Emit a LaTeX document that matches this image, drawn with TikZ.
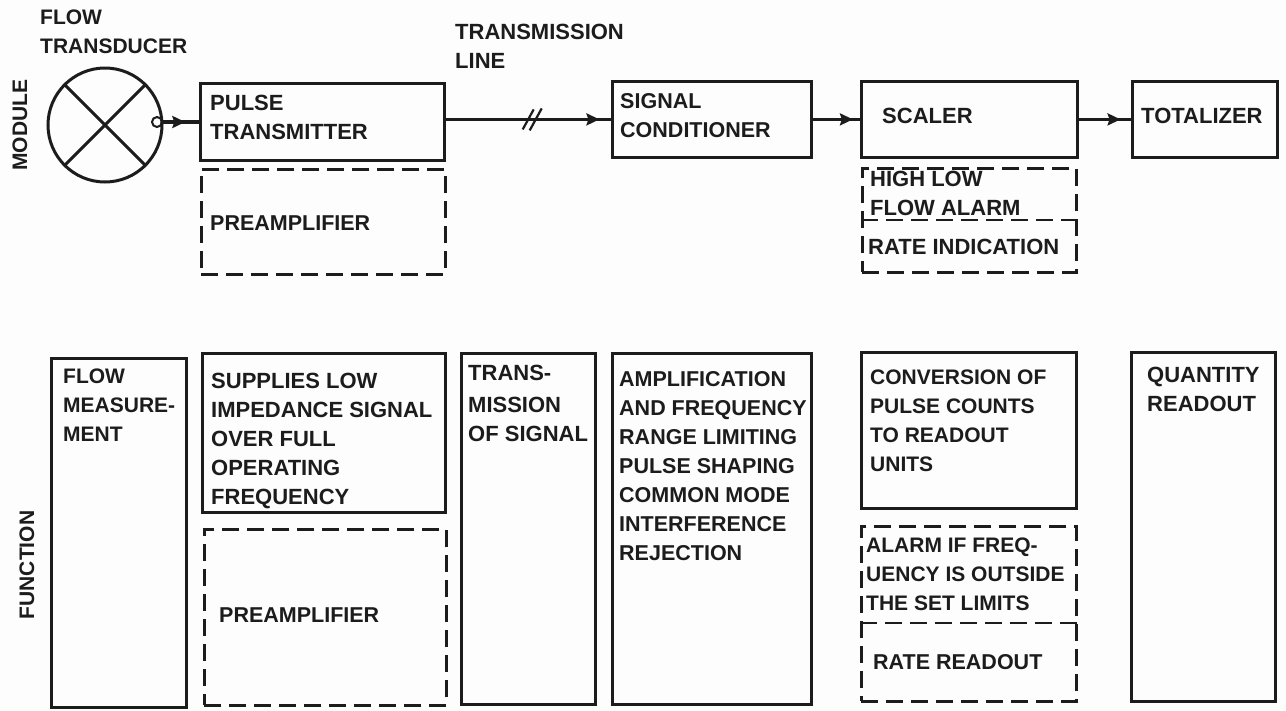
\documentclass[tikz,border=0pt]{standalone}
\usepackage{xcolor}
\usepackage{fontspec}
\setmainfont{Liberation Sans}
\usetikzlibrary{arrows.meta,positioning,calc,decorations.markings}
\definecolor{ink}{HTML}{1C1C1C}
\definecolor{paper}{HTML}{FDFDFD}
\tikzset{
  frame/.style={rectangle, draw=ink, line width=2.8pt, anchor=north west, inner sep=0pt},
  dashframe/.style={frame, line width=2.6pt, dash pattern=on 17pt off 8pt},
  dashrule/.style={draw=ink, line width=2.2pt, dash pattern=on 17pt off 8pt},
  lbl/.style={font=\fontsize{22}{29}\selectfont\bfseries, text=ink, align=left, inner sep=0pt},
  lblmid/.style={lbl, font=\fontsize{21.5}{29}\selectfont\bfseries},
  lbltight/.style={lbl, font=\fontsize{21}{29}\selectfont\bfseries},
  fl/.style={draw=ink, line width=3.4pt, postaction={decorate, decoration={markings,
             mark=at position #1 with {\arrow{Stealth[length=13pt,width=12pt,inset=2pt]}}}}},
  xdrline/.style={draw=ink, line width=3pt},
  brk/.style={draw=ink, line width=2.2pt}
}
\begin{document}
\begin{tikzpicture}[x=1pt, y=-1pt]
  \useasboundingbox[fill=paper] (0,0) rectangle (1286,710);
  % module row
  \node[lbltight, rotate=90] (module) at (20,125) {MODULE};
  \node[circle, xdrline, minimum size=114pt, inner sep=0pt] (xdr) at (105,125) {};
  \draw[xdrline] (xdr.north west) -- (xdr.south east);
  \draw[xdrline] (xdr.north east) -- (xdr.south west);
  \node[circle, draw=ink, line width=2pt, minimum size=10pt, inner sep=0pt] (tap) at (157,122) {};
  \node[lbltight, anchor=north west] (xdrt) at (40,10) {FLOW\\TRANSDUCER};
  \node[lbl, anchor=north west] (linet) at (455,24) {TRANSMISSION\\LINE};

  \node[frame, minimum width=244pt, minimum height=77pt] (pulse) at (199,82) {};
  \node[lbl, below right=13pt and 11pt of pulse.north west] {PULSE\\TRANSMITTER};
  \node[dashframe, minimum width=244pt, minimum height=105pt] (pre) at (200,168) {};
  \node[lblmid, below right=48pt and 10pt of pre.north west] {PREAMPLIFIER};
  \node[frame, minimum width=199pt, minimum height=76pt] (cond) at (611,80) {};
  \node[lblmid, below right=13pt and 9pt of cond.north west] {SIGNAL\\CONDITIONER};
  \node[frame, minimum width=216pt, minimum height=76pt] (scal) at (860,80) {};
  \node[lbl, below right=28pt and 22pt of scal.north west] {SCALER};
  \node[frame, minimum width=145pt, minimum height=76pt] (tot) at (1131,80) {};
  \node[lbl, below right=28pt and 10pt of tot.north west] {TOTALIZER};
  \node[dashframe, minimum width=214pt, minimum height=104pt] (hilo) at (861,167) {};
  \draw[dashrule] ($(hilo.north west)!0.5!(hilo.south west)$) -- ($(hilo.north east)!0.5!(hilo.south east)$);
  \node[lbl, below right=4pt and 9pt of hilo.north west] {HIGH LOW\\FLOW ALARM};
  \node[lbl, below right=72pt and 7pt of hilo.north west] {RATE INDICATION};

  \draw[fl=0.62] (tap.east) -- (tap.east -| pulse.west);
  \draw[fl=0.93] (pulse.east |- cond.west) -- coordinate[pos=0.52] (cut) (cond.west);
  \draw[brk] ($(cut)+(-9,10)$) -- ($(cut)+(2,-10)$);
  \draw[brk] ($(cut)+(-2,11)$) -- ($(cut)+(10,-11)$);
  \draw[fl=0.85] (cond.east) -- (scal.west);
  \draw[fl=0.8] (scal.east) -- (tot.west);

  % function row
  \node[lbltight, rotate=90] (function) at (27,565) {FUNCTION};
  \node[frame, minimum width=135pt, minimum height=349pt] (flow) at (50,357) {};
  \node[lbltight, below right=12pt and 13pt of flow.north west] {FLOW\\MEASURE-\\MENT};
  \node[frame, minimum width=243pt, minimum height=159pt] (supp) at (201,352) {};
  \node[lbl, below right=21pt and 10pt of supp.north west] {SUPPLIES LOW\\IMPEDANCE SIGNAL\\OVER FULL\\OPERATING\\FREQUENCY};
  \node[dashframe, minimum width=242pt, minimum height=176pt] (pref) at (203,528) {};
  \node[lblmid, below right=79pt and 16pt of pref.north west] {PREAMPLIFIER};
  \node[frame, minimum width=134pt, minimum height=351pt] (trans) at (460,352) {};
  \node[lbl, below right=13pt and 8pt of trans.north west] {TRANS-\\[3pt]MISSION\\OF SIGNAL};
  \node[frame, minimum width=199pt, minimum height=351pt] (ampl) at (611,352) {};
  \node[lblmid, below right=19pt and 8pt of ampl.north west] {AMPLIFICATION\\AND FREQUENCY\\RANGE LIMITING\\PULSE SHAPING\\COMMON MODE\\INTERFERENCE\\REJECTION};
  \node[frame, minimum width=215pt, minimum height=156pt] (conv) at (860,351) {};
  \node[lbltight, below right=19pt and 10pt of conv.north west] {CONVERSION OF\\PULSE COUNTS\\TO READOUT\\UNITS};
  \node[dashframe, minimum width=215pt, minimum height=175pt] (alarm) at (860,525) {};
  \draw[dashrule] ($(alarm.north west)!0.55!(alarm.south west)$) -- ($(alarm.north east)!0.55!(alarm.south east)$);
  \node[lbltight, below right=13pt and 6pt of alarm.north west] {ALARM IF FREQ-\\UENCY IS OUTSIDE\\THE SET LIMITS};
  \node[lblmid, below right=129pt and 13pt of alarm.north west] {RATE READOUT};
  \node[frame, minimum width=144pt, minimum height=349pt] (quant) at (1130,351) {};
  \node[lbl, below right=16pt and 17pt of quant.north west] {QUANTITY\\READOUT};
\end{tikzpicture}
\end{document}
